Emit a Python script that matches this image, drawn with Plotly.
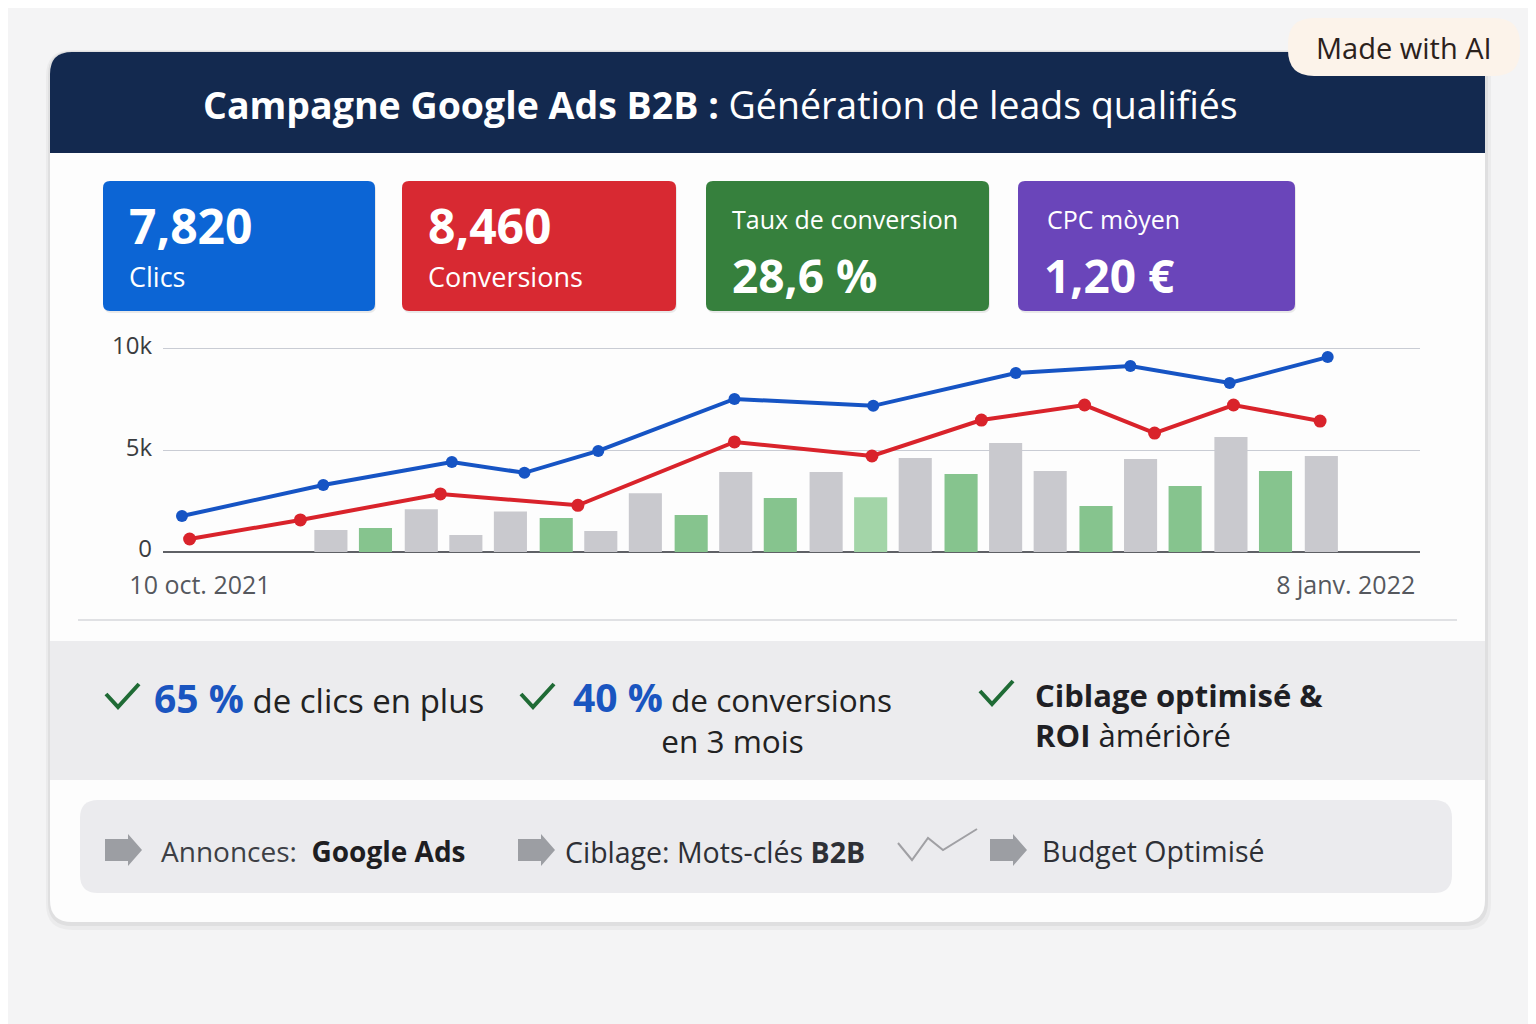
import plotly.graph_objects as go

# the page body keeps its default 8px margin, so the figure is sized to fill the rest
OFF = 8
W, H = 1536 - OFF, 1024 - OFF
FONT = "Open Sans"

# --- data ---
clic_days = [0, 11.1, 21.2, 26.9, 32.7, 43.4, 54.3, 65.5, 74.5, 82.3, 90]
clics = [1770, 3300, 4430, 3900, 4980, 7540, 7200, 8820, 9160, 8330, 9600]

conv_days = [0.6, 9.3, 20.3, 31.1, 43.4, 54.2, 62.8, 70.9, 76.4, 82.6, 89.4]
conversions = [640, 1580, 2860, 2300, 5420, 4730, 6500, 7240, 5860, 7240, 6450]

gray_days = [11.7, 18.8, 22.3, 25.8, 32.9, 36.4, 43.5, 50.6, 57.6, 64.7, 68.2, 75.3, 82.4, 89.5]
gray_values = [1080, 2100, 840, 2000, 1030, 2900, 3940, 3940, 4630, 5370, 3990, 4580, 5670, 4730]

green_days = [15.2, 29.4, 40.0, 47.0, 54.1, 61.2, 71.8, 78.8, 85.9]
green_values = [1180, 1670, 1820, 2660, 2700, 3840, 2270, 3250, 3990]
green_colors = ["#86c48e", "#86c48e", "#86c48e", "#86c48e", "#a3d5a8",
                "#86c48e", "#86c48e", "#86c48e", "#86c48e"]

y_ticks = [0, 5000, 10000]
y_labels = ["0", "5k", "10k"]
x_ticks = [0, 90]
x_labels = ["10 oct. 2021", "8 janv. 2022"]

kpi_values = ["7,820", "8,460", "28,6 %", "1,20 €"]
kpi_labels = ["Clics", "Conversions", "Taux de conversion", "CPC mòyen"]


def fx(x):
    return (x - OFF) / W


def fy(y):
    return 1 - (y - OFF) / H


def rrect(x0, y0, x1, y1, r, top_only=False):
    p = f"M {fx(x0 + r)},{fy(y0)} L {fx(x1 - r)},{fy(y0)} "
    p += f"Q {fx(x1)},{fy(y0)} {fx(x1)},{fy(y0 + r)} "
    if top_only:
        p += f"L {fx(x1)},{fy(y1)} L {fx(x0)},{fy(y1)} "
    else:
        p += f"L {fx(x1)},{fy(y1 - r)} Q {fx(x1)},{fy(y1)} {fx(x1 - r)},{fy(y1)} "
        p += f"L {fx(x0 + r)},{fy(y1)} Q {fx(x0)},{fy(y1)} {fx(x0)},{fy(y1 - r)} "
    p += f"L {fx(x0)},{fy(y0 + r)} Q {fx(x0)},{fy(y0)} {fx(x0 + r)},{fy(y0)} Z"
    return p


def poly(points, close=False):
    p = "M " + " L ".join(f"{fx(x)},{fy(y)}" for x, y in points)
    return p + (" Z" if close else "")


def arrow(x0, yc):
    return poly([(x0, yc - 11), (x0 + 23, yc - 11), (x0 + 23, yc - 16), (x0 + 37, yc),
                 (x0 + 23, yc + 16), (x0 + 23, yc + 11), (x0, yc + 11)], close=True)


fig = go.Figure()

fig.add_trace(go.Bar(x=gray_days, y=gray_values, width=2.6, name="Impressions",
                     marker=dict(color="#c9c9ce", line=dict(width=0))))
fig.add_trace(go.Bar(x=green_days, y=green_values, width=2.6, name="Leads",
                     marker=dict(color=green_colors, line=dict(width=0))))
fig.add_trace(go.Scatter(x=conv_days, y=conversions, mode="lines+markers", name="Conversions",
                         line=dict(color="#d9232b", width=4),
                         marker=dict(size=13, color="#d9232b")))
fig.add_trace(go.Scatter(x=clic_days, y=clics, mode="lines+markers", name="Clics",
                         line=dict(color="#1654c4", width=4),
                         marker=dict(size=12, color="#1654c4")))

shapes = []
# card shadow + card
shapes.append(dict(type="path", path=rrect(46, 50, 1491, 930, 26), fillcolor="rgba(0,0,0,0.035)", line=dict(width=0)))
shapes.append(dict(type="path", path=rrect(48, 51, 1488, 926, 24), fillcolor="rgba(0,0,0,0.05)", line=dict(width=0)))
shapes.append(dict(type="path", path=rrect(50, 52, 1485, 922, 22), fillcolor="#fdfdfd", line=dict(width=0)))
# header band
shapes.append(dict(type="path", path=rrect(50, 52, 1485, 153, 22, top_only=True), fillcolor="#13294f", line=dict(width=0)))
# badge
shapes.append(dict(type="path", path=rrect(1288, 18, 1520, 76, 26), fillcolor="#fcf3ea", line=dict(width=0)))

# KPI cards
card_x = [(103, 375), (402, 676), (706, 989), (1018, 1295)]
card_colors = ["#0c65d5", "#d82932", "#36803d", "#6a45ba"]
for (x0, x1), c in zip(card_x, card_colors):
    shapes.append(dict(type="path", path=rrect(x0 + 1, 183, x1 + 1, 313, 7), fillcolor="rgba(0,0,0,0.08)", line=dict(width=0)))
    shapes.append(dict(type="path", path=rrect(x0, 181, x1, 311, 7), fillcolor=c, line=dict(width=0)))

# separator and gray band
shapes.append(dict(type="line", x0=fx(78), x1=fx(1457), y0=fy(620), y1=fy(620), line=dict(color="#d6d7db", width=1.5)))
shapes.append(dict(type="rect", x0=fx(50), x1=fx(1485), y0=fy(641), y1=fy(780), fillcolor="#ececee", line=dict(width=0)))

# check marks
for cx, cy in [(106, 697), (521, 697), (980, 694)]:
    shapes.append(dict(type="path", path=poly([(cx, cy - 3), (cx + 12, cy + 10), (cx + 33, cy - 13)]),
                       line=dict(color="#1f6b35", width=4)))

# bottom pill
shapes.append(dict(type="path", path=rrect(80, 800, 1452, 893, 18), fillcolor="#ebebee", line=dict(width=0)))
for ax in [105, 518, 990]:
    shapes.append(dict(type="path", path=arrow(ax, 850), fillcolor="#9c9ea3", line=dict(width=0)))
shapes.append(dict(type="path", path=poly([(898, 843), (912, 860), (928, 838), (943, 850), (977, 829)]),
                   line=dict(color="#a0a0a4", width=2)))

for s in shapes:
    s.setdefault("xref", "paper")
    s.setdefault("yref", "paper")
    s["layer"] = "below"

ann = []


def txt(x, y, text, size, color="#222222", anchor="left", align=None):
    ann.append(dict(x=fx(x), y=fy(y), xref="paper", yref="paper", text=text, showarrow=False,
                    xanchor=anchor, yanchor="middle", align=align or anchor,
                    font=dict(family=FONT, size=size, color=color)))


txt(720, 104, "<b>Campagne Google Ads B2B :</b> Génération de leads qualifiés", 37.5, "white", "center")
txt(1404, 47, "Made with AI", 29, "#2b211c", "center")

txt(127, 225, f"<b>{kpi_values[0]}</b>", 48, "white")
txt(127, 276, kpi_labels[0], 27, "white")
txt(426, 225, f"<b>{kpi_values[1]}</b>", 48, "white")
txt(426, 276, kpi_labels[1], 27, "white")
txt(730, 219, kpi_labels[2], 25, "white")
txt(730, 275, f"<b>{kpi_values[2]}</b>", 46, "white")
txt(1045, 219, kpi_labels[3], 25, "white")
txt(1042, 275, f"<b>{kpi_values[3]}</b>", 46, "white")

blue = "#1a55c0"
txt(152, 697, f"<b><span style='color:{blue};font-size:39px'>65 %</span></b> de clics en plus", 33, "#222222")
txt(732, 716, f"<b><span style='color:{blue};font-size:39px'>40 %</span></b> de conversions<br>en 3 mois",
    31.5, "#222222", "center")
txt(1033, 715, "<b>Ciblage optimisé &</b><br><b>ROI</b> àmériòré", 31, "#1f1f24", "left")

txt(159, 851, "Annonces:  <b><span style='color:#1e1e22'>Google Ads</span></b>", 28, "#3d3f45")
txt(563, 852, "Ciblage: Mots-clés <b>B2B</b>", 28.5, "#2e3036")
txt(1040, 851, "Budget Optimisé", 28.5, "#2e3036")

fig.update_layout(
    width=W, height=H,
    margin=dict(l=0, r=0, t=0, b=0, autoexpand=False),
    paper_bgcolor="#f4f4f5",
    plot_bgcolor="rgba(0,0,0,0)",
    showlegend=False,
    barmode="overlay",
    shapes=shapes,
    annotations=ann,
    xaxis=dict(domain=[fx(163), fx(1420)], range=[-1.49, 97.25], showgrid=False, zeroline=False,
               tickvals=x_ticks, ticktext=x_labels, ticks="", showline=False, automargin=False,
               ticklabelstandoff=16, ticklabelshift=18,
               tickfont=dict(family=FONT, size=25, color="#55585e")),
    yaxis=dict(domain=[fy(552), fy(340)], range=[0, 10443], tickvals=y_ticks, ticktext=y_labels,
               showgrid=True, gridcolor="#c9ccd4", gridwidth=1.2, zeroline=True, zerolinecolor="#5f6166",
               zerolinewidth=1.5, ticks="", ticklabelstandoff=10, ticklabelshift=-3, automargin=False,
               tickfont=dict(family=FONT, size=24, color="#3a3c40")),
)

fig.write_html("out.html")
